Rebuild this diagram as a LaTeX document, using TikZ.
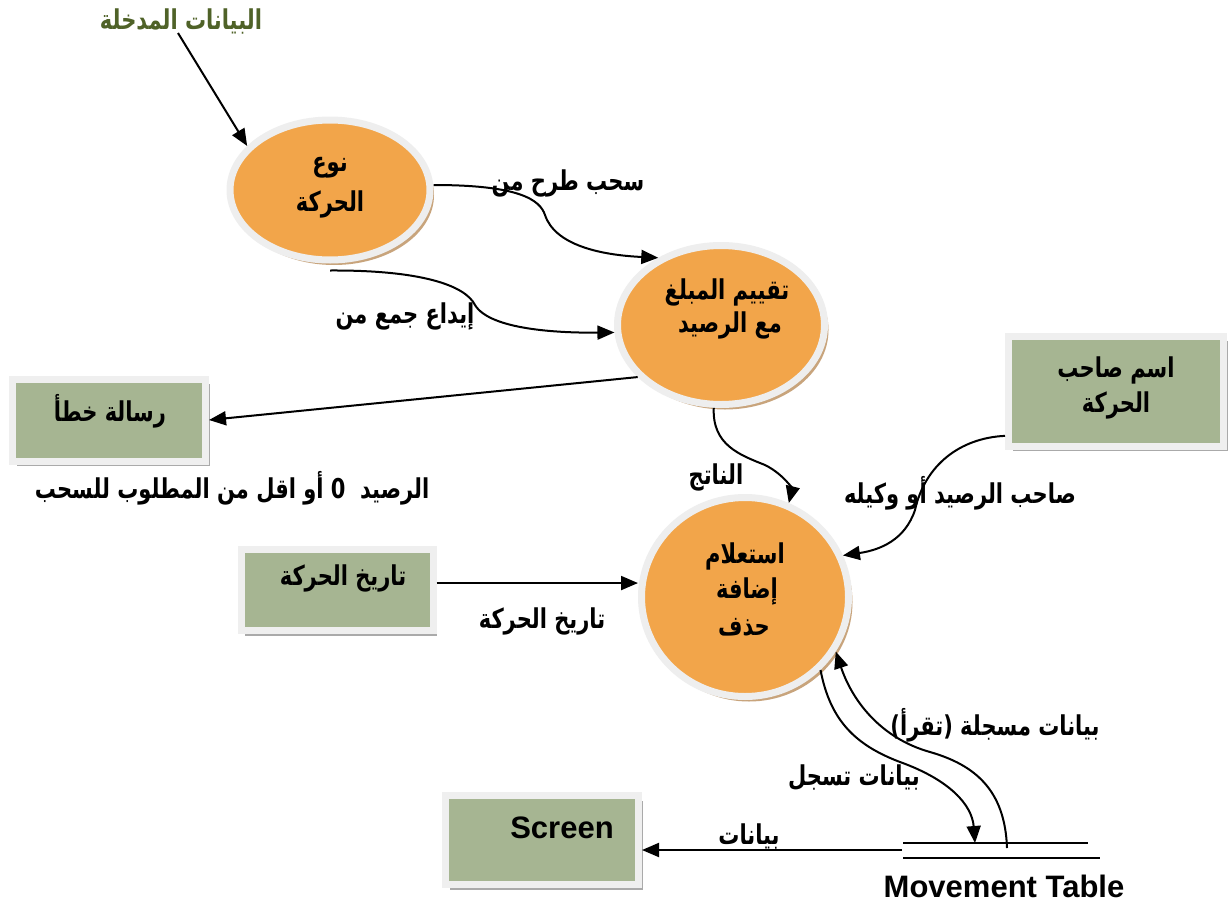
\documentclass[tikz,border=0pt]{standalone}
\usepackage{fontspec}
\setmainfont{Liberation Sans}
\newfontfamily\arabicfont[Script=Arabic]{DejaVu Sans}
\TeXXeTstate=1
\usetikzlibrary{shapes.geometric,shadows,arrows.meta}
\definecolor{orng}{HTML}{F2A54A}
\definecolor{ring}{HTML}{EEEEEE}
\definecolor{tanshadow}{HTML}{C8A47C}
\definecolor{sage}{HTML}{A6B592}
\definecolor{frame}{HTML}{EFEFEF}
\definecolor{boxshadow}{HTML}{AAAAAA}
\definecolor{olive}{HTML}{4F6228}
\newcommand\ar[1]{\scalebox{1}[1.3]{\arabicfont\bfseries\beginR #1\endR}}
\begin{document}
\begin{tikzpicture}[x=1pt,y=-1pt,
  proc/.style={ellipse, fill=orng, draw=ring, line width=7pt, inner sep=0pt,
    drop shadow={shadow xshift=4pt, shadow yshift=-5pt, fill=tanshadow, opacity=1}},
  entity/.style={rectangle, fill=sage, draw=frame, line width=7pt, inner sep=0pt,
    drop shadow={shadow xshift=4pt, shadow yshift=-5pt, fill=boxshadow, opacity=1}},
  lbl/.style={inner sep=0pt, font=\fontsize{21}{25}\selectfont, align=center},
  flow/.style={line width=2pt, -{Triangle[length=17pt,width=14pt]}},
  plain/.style={line width=1.6pt}
]
\useasboundingbox (0,0) rectangle (1228,902);
\fill[white] (0,0) rectangle (1228,902);

% processes
\node[proc, minimum width=200pt, minimum height=140pt] (p1) at (330,190) {};
\node[proc, minimum width=207pt, minimum height=159pt] (p2) at (721,325) {};
\node[proc, minimum width=207pt, minimum height=199pt] (p3) at (745,597) {};

% entities
\node[entity, minimum width=193pt, minimum height=82pt] (b1) at (109,420) {};
\node[entity, minimum width=215pt, minimum height=110pt] (b2) at (1116,391) {};
\node[entity, minimum width=192pt, minimum height=81pt] (b3) at (337,590) {};
\node[entity, minimum width=193pt, minimum height=89pt] (b4) at (542,840) {};

% texts inside shapes
\node[lbl] (t1a) at (330,168) {\ar{نوع}};
\node[lbl] (t1b) at (330,204) {\ar{الحركة}};
\node[lbl] (t2a) at (727,292) {\ar{تقييم المبلغ}};
\node[lbl] (t2b) at (730,325) {\ar{مع الرصيد}};
\node[lbl] (t3a) at (745,556) {\ar{استعلام}};
\node[lbl] (t3b) at (747,591) {\ar{إضافة}};
\node[lbl] (t3c) at (744,627) {\ar{حذف}};
\node[lbl] (tb1) at (110,411) {\ar{رسالة خطأ}};
\node[lbl] (tb2a) at (1116,370) {\ar{اسم صاحب}};
\node[lbl] (tb2b) at (1116,405) {\ar{الحركة}};
\node[lbl] (tb3) at (343,578) {\ar{تاريخ الحركة}};
\node[lbl, font=\fontsize{31}{36}\selectfont\bfseries] (tb4) at (562,828) {Screen};

% free labels
\node[lbl, text=olive] (inp) at (181,21) {\ar{البيانات المدخلة}};
\node[lbl] (l1) at (568,183) {\ar{سحب طرح من}};
\node[lbl] (l2) at (405,316) {\ar{إيداع جمع من}};
\node[lbl] (l3) at (232,488) {\ar{الرصيد\ \ 0 أو اقل من المطلوب للسحب}};
\node[lbl] (l4) at (716,477) {\ar{الناتج}};
\node[lbl] (l5) at (960,493) {\ar{صاحب الرصيد أو وكيله}};
\node[lbl] (l6) at (542,621) {\ar{تاريخ الحركة}};
\node[lbl] (l7) at (995,725) {\ar{بيانات مسجلة (تقرأ)}};
\node[lbl] (l8) at (854,778) {\ar{بيانات تسجل}};
\node[lbl] (l9) at (749,836) {\ar{بيانات}};
\node[lbl, font=\fontsize{31}{36}\selectfont\bfseries] (mt) at (1004,886) {Movement Table};

% data store
\coordinate (sA) at (903,843);
\coordinate (sB) at (1088,843);
\coordinate (sC) at (903,858);
\coordinate (sD) at (1100,858);
\coordinate (sIn) at (975,843);
\coordinate (sOut) at (1007,848);
\coordinate (sScr) at (902,850);
\draw[plain] (sA) -- (sB);
\draw[plain] (sC) -- (sD);

% flows
\draw[flow] (178,33) -- (p1.152);
\draw[flow] ([yshift=5pt]p1.east) .. controls (520,185) and (540,200) .. (545,215)
  .. controls (555,245) and (600,255) .. (p2.133);
\draw[flow] ([yshift=-7pt]p1.south) .. controls (420,270) and (465,285) .. (475,305)
  .. controls (490,330) and (560,333) .. (p2.184);
\draw[flow] (p2.212) -- (b1.east);
\draw[flow] (p2.265) .. controls (712,445) and (740,455) .. (765,465)
  .. controls (785,475) and (792,490) .. (p3.65);
\draw[flow] (b2.202) .. controls (960,438) and (925,465) .. (915,510)
  .. controls (905,540) and (880,550) .. (p3.23);
\draw[flow] (b3.4) -- (b3.4 -| p3.west);
\draw[flow] (p3.-44) .. controls (830,720) and (855,745) .. (900,762)
  .. controls (950,780) and (972,805) .. (sIn);
\draw[flow] (sOut) .. controls (1005,790) and (975,765) .. (930,752)
  .. controls (880,738) and (852,700) .. (p3.-31);
\draw[flow] (sScr) -- (sScr -| b4.east);
\end{tikzpicture}
\end{document}
